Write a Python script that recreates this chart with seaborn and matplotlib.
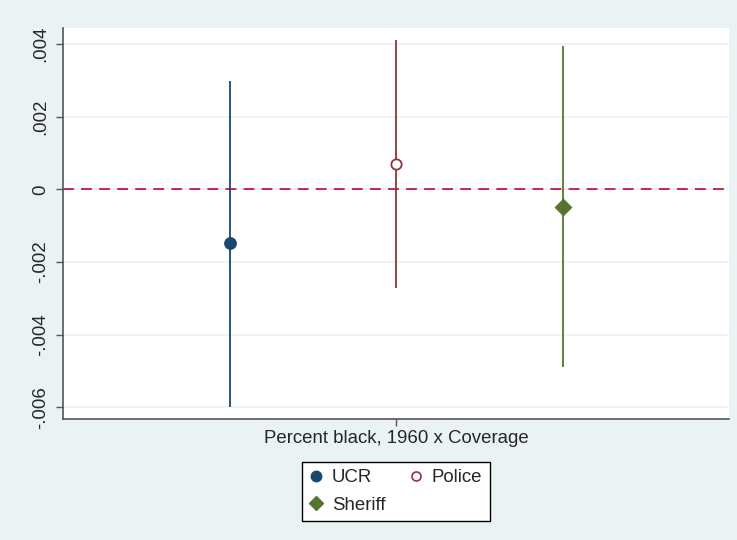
import matplotlib
matplotlib.use("Agg")
import matplotlib.pyplot as plt
import matplotlib.ticker as mticker
from matplotlib.lines import Line2D
import seaborn as sns
import pandas as pd

# Coefficient estimates with 95% confidence intervals
series = ["UCR", "Police", "Sheriff"]
estimates = [-0.00148, 0.00070, -0.00049]
ci_low = [-0.00598, -0.00272, -0.00490]
ci_high = [0.00298, 0.00412, 0.00395]
x_pos = [1, 2, 3]
colors = ["#1A476F", "#90353B", "#55752F"]
y_ticks = [-0.006, -0.004, -0.002, 0, 0.002, 0.004]
x_label = "Percent black, 1960 x Coverage"

df = pd.DataFrame({"series": series, "x": x_pos, "est": estimates,
                   "lo": ci_low, "hi": ci_high})

sns.set_theme(style="white")
plt.rcParams["font.family"] = ["Liberation Sans", "DejaVu Sans"]
FS = 13.4

bg = "#EAF2F3"
fig = plt.figure(figsize=(7.37, 5.40), dpi=100, facecolor=bg)
ax = fig.add_axes([63 / 737, 1 - 419 / 540, (729 - 63) / 737, (419 - 28) / 540])
ax.set_facecolor("white")

# horizontal grid
for yt in y_ticks:
    ax.axhline(yt, color=bg, lw=1.2, zorder=0)

# reference line at zero
ax.axhline(0, color="#C8163C", lw=1.3, ls=(0, (6, 4)), zorder=1)

# confidence intervals
for i, row in df.iterrows():
    ax.vlines(row["x"], row["lo"], row["hi"], color=colors[i], lw=1.3, zorder=2)

# point estimates
sns.scatterplot(data=df[df.series == "UCR"], x="x", y="est", ax=ax, marker="o",
                s=75, color=colors[0], edgecolor=colors[0], linewidth=0.5,
                zorder=3, legend=False)
sns.scatterplot(data=df[df.series == "Police"], x="x", y="est", ax=ax, marker="o",
                s=55, facecolor="white", edgecolor=colors[1], linewidth=1.3,
                zorder=3, legend=False)
sns.scatterplot(data=df[df.series == "Sheriff"], x="x", y="est", ax=ax, marker="D",
                s=75, color=colors[2], edgecolor=colors[2], linewidth=0.5,
                zorder=3, legend=False)

ax.set_xlim(0, 4)
ax.set_ylim(-0.006319, 0.004437)
ax.set_xticks([2])
ax.set_xticklabels([x_label], fontsize=FS)
ax.set_yticks(y_ticks)
ax.yaxis.set_major_formatter(mticker.FuncFormatter(
    lambda v, p: "0" if abs(v) < 1e-12 else ("%.3f" % v).replace("0.", ".")))
plt.setp(ax.get_yticklabels(), rotation=90, va="center", fontsize=FS)
ax.set_xlabel("")
ax.set_ylabel("")
ax.tick_params(axis="both", direction="out", length=5, width=1, color="#555555",
               pad=3, left=True, bottom=True)
ax.tick_params(axis="y", pad=5)

for side in ["top", "right"]:
    ax.spines[side].set_visible(False)
for side in ["left", "bottom"]:
    ax.spines[side].set_color("#555555")
    ax.spines[side].set_linewidth(1.2)

handles = [
    Line2D([], [], ls="none", marker="o", ms=7.5, color=colors[0]),
    Line2D([], [], ls="none", marker="D", ms=7.5, color=colors[2]),
    Line2D([], [], ls="none", marker="o", ms=6.5, mfc="white", mec=colors[1], mew=1.2),
]
labels = ["UCR", "Sheriff", "Police"]
leg = fig.legend(handles, labels, ncol=2, loc="lower center",
                 bbox_to_anchor=(0.537, 0.035), fontsize=FS, frameon=True,
                 fancybox=False, edgecolor="black", facecolor="white",
                 framealpha=1.0,
                 handlelength=0.7, handletextpad=0.5, columnspacing=1.3,
                 borderpad=0.4, labelspacing=0.57, borderaxespad=0)
leg.get_frame().set_linewidth(1.0)

fig.savefig("out.png", dpi=100, facecolor=bg)
